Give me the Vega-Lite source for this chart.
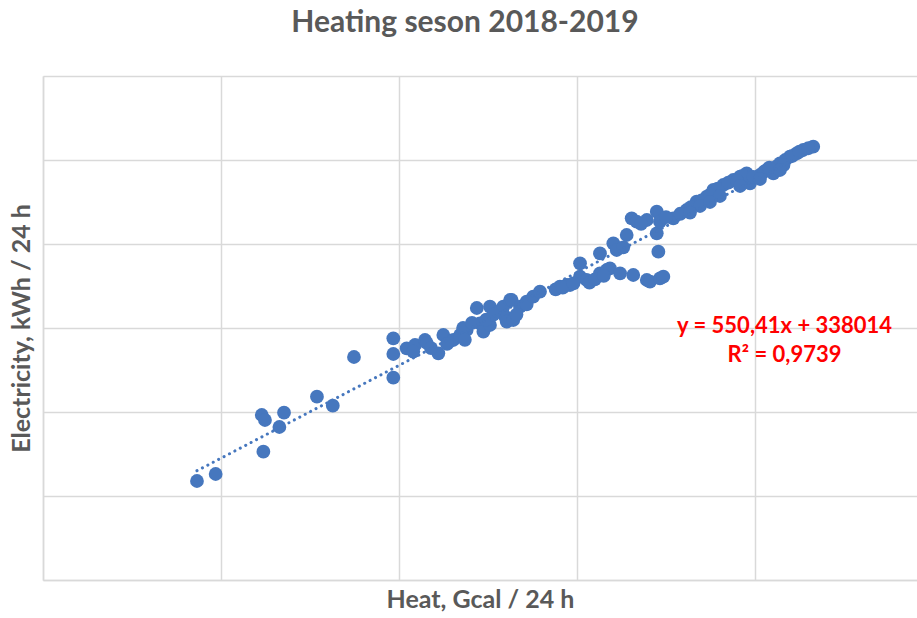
{
  "$schema": "https://vega.github.io/schema/vega-lite/v6.json",
  "width": 874,
  "height": 504,
  "autosize": {"type": "none"},
  "padding": {"left": 43, "top": 76, "right": 0, "bottom": 38},
  "background": "white",
  "config": {"view": {"stroke": null}},
  "title": {
    "text": "Heating seson 2018-2019",
    "font": "Lato",
    "fontSize": 30,
    "fontWeight": "bold",
    "color": "#595959",
    "anchor": "middle",
    "offset": 38,
    "dx": -15
  },
  "datasets": {
    "points": [
      {"heat": 136.5, "elec": 408929}, {"heat": 147.0, "elec": 413095}, {"heat": 172.9, "elec": 448215},
      {"heat": 174.7, "elec": 445238}, {"heat": 185.4, "elec": 449584}, {"heat": 182.8, "elec": 441072},
      {"heat": 173.8, "elec": 426369}, {"heat": 203.9, "elec": 459108}, {"heat": 212.8, "elec": 453750},
      {"heat": 224.7, "elec": 482739}, {"heat": 246.8, "elec": 493870}, {"heat": 246.8, "elec": 484524},
      {"heat": 246.8, "elec": 470417}, {"heat": 254.3, "elec": 487917}, {"heat": 259.0, "elec": 489881},
      {"heat": 264.6, "elec": 492858}, {"heat": 265.6, "elec": 491072}, {"heat": 272.1, "elec": 484941},
      {"heat": 274.9, "elec": 495834}, {"heat": 280.5, "elec": 492858}, {"heat": 284.3, "elec": 495834},
      {"heat": 288.0, "elec": 498810}, {"heat": 293.7, "elec": 511905}, {"heat": 295.5, "elec": 502798},
      {"heat": 297.4, "elec": 497798}, {"heat": 301.1, "elec": 512679}, {"heat": 301.1, "elec": 501786},
      {"heat": 305.8, "elec": 509703}, {"heat": 308.6, "elec": 512679}, {"heat": 309.6, "elec": 506727},
      {"heat": 310.5, "elec": 503751}, {"heat": 312.4, "elec": 516667}, {"heat": 313.3, "elec": 516667},
      {"heat": 314.2, "elec": 504762}, {"heat": 318.0, "elec": 512679}, {"heat": 321.7, "elec": 515655},
      {"heat": 321.7, "elec": 514000}, {"heat": 325.4, "elec": 518636}, {"heat": 329.2, "elec": 521610},
      {"heat": 340.4, "elec": 524587}, {"heat": 344.2, "elec": 525596}, {"heat": 346.1, "elec": 525596},
      {"heat": 351.7, "elec": 538513}, {"heat": 351.7, "elec": 530537}, {"heat": 355.4, "elec": 528572},
      {"heat": 362.9, "elec": 544466}, {"heat": 362.9, "elec": 532560}, {"heat": 366.7, "elec": 534524},
      {"heat": 368.5, "elec": 535536}, {"heat": 370.4, "elec": 550418}, {"heat": 372.3, "elec": 546429},
      {"heat": 374.2, "elec": 532560}, {"heat": 377.9, "elec": 555358}, {"heat": 380.7, "elec": 565298},
      {"heat": 381.6, "elec": 531548}, {"heat": 383.5, "elec": 563275}, {"heat": 389.2, "elec": 564286},
      {"heat": 389.2, "elec": 528572}, {"heat": 391.0, "elec": 527560}, {"heat": 394.8, "elec": 569227},
      {"heat": 394.8, "elec": 556370}, {"heat": 395.7, "elec": 545418}, {"heat": 396.6, "elec": 529584},
      {"heat": 398.5, "elec": 530537}, {"heat": 396.6, "elec": 563275}, {"heat": 404.1, "elec": 565298},
      {"heat": 411.6, "elec": 570239}, {"heat": 417.2, "elec": 575185}, {"heat": 422.9, "elec": 578158},
      {"heat": 426.6, "elec": 582144}, {"heat": 432.2, "elec": 585120}, {"heat": 437.8, "elec": 588096},
      {"heat": 441.6, "elec": 590060}, {"heat": 445.3, "elec": 592084}, {"heat": 447.2, "elec": 586132},
      {"heat": 452.8, "elec": 591072}, {"heat": 456.6, "elec": 594048}, {"heat": 460.3, "elec": 592084},
      {"heat": 464.0, "elec": 598036}, {"heat": 469.6, "elec": 601966}, {"heat": 473.4, "elec": 603989},
      {"heat": 477.1, "elec": 605953}, {"heat": 482.7, "elec": 607917},
      {"heat": 338, "elec": 523000}, {"heat": 342, "elec": 524000}, {"heat": 348, "elec": 526500},
      {"heat": 357, "elec": 527000}, {"heat": 360, "elec": 529000}, {"heat": 365, "elec": 531000},
      {"heat": 376, "elec": 548000}, {"heat": 386, "elec": 562000}, {"heat": 400, "elec": 566000},
      {"heat": 408, "elec": 568000}, {"heat": 414, "elec": 572000}, {"heat": 420, "elec": 576000},
      {"heat": 429, "elec": 583000}, {"heat": 435, "elec": 586500}, {"heat": 443, "elec": 590500},
      {"heat": 449, "elec": 590000}, {"heat": 455, "elec": 593000}, {"heat": 462, "elec": 596000},
      {"heat": 467, "elec": 600000}, {"heat": 471, "elec": 602500}, {"heat": 475, "elec": 605000},
      {"heat": 480, "elec": 607000}, {"heat": 286, "elec": 500000}, {"heat": 291, "elec": 503000},
      {"heat": 299, "elec": 505000}, {"heat": 303, "elec": 508000}, {"heat": 316, "elec": 508000},
      {"heat": 258, "elec": 486000}, {"heat": 268, "elec": 488000}, {"heat": 277, "elec": 490500},
      {"heat": 287, "elec": 493000}, {"heat": 425, "elec": 579500}, {"heat": 440, "elec": 587500},
      {"heat": 458, "elec": 595500}, {"heat": 466, "elec": 597000},
      {"heat": 419.1, "elec": 572620}, {"heat": 430.3, "elec": 578572}, {"heat": 441.6, "elec": 584524},
      {"heat": 452.8, "elec": 588691}, {"heat": 464.0, "elec": 594048}, {"heat": 413.5, "elec": 568694},
      {"heat": 424.7, "elec": 575000}
    ],
    "trend": [
      {"heat": 136.5, "elec": 415060},
      {"heat": 482.7, "elec": 606300}
    ],
    "labels": [
      {"heat": 466.6, "elec": 501190, "label": "y = 550,41x + 338014"},
      {"heat": 466.6, "elec": 483930, "label": "R² = 0,9739"}
    ]
  },
  "encoding": {
    "x": {
      "field": "heat", "type": "quantitative",
      "scale": {"domain": [50, 541], "nice": false, "zero": false},
      "axis": {
        "title": "Heat, Gcal / 24 h",
        "values": [50, 150, 250, 350, 450],
        "labels": false, "ticks": false,
        "grid": true, "gridColor": "#d9d9d9", "gridWidth": 1.5,
        "domainColor": "#d9d9d9", "domainWidth": 1.5,
        "titleFont": "Lato", "titleFontSize": 25, "titleFontWeight": "bold",
        "titleColor": "#595959", "titlePadding": 7
      }
    },
    "y": {
      "field": "elec", "type": "quantitative",
      "scale": {"domain": [350000, 650000], "nice": false, "zero": false},
      "axis": {
        "title": "Electricity, kWh / 24 h",
        "values": [350000, 400000, 450000, 500000, 550000, 600000, 650000],
        "labels": false, "ticks": false,
        "grid": true, "gridColor": "#d9d9d9", "gridWidth": 1.5,
        "domainColor": "#d9d9d9", "domainWidth": 1.5,
        "titleFont": "Lato", "titleFontSize": 25, "titleFontWeight": "bold",
        "titleColor": "#595959", "titlePadding": 9
      }
    }
  },
  "layer": [
    {
      "data": {"name": "points"},
      "mark": {"type": "circle", "size": 190, "color": "#4677be", "opacity": 1}
    },
    {
      "data": {"name": "trend"},
      "mark": {"type": "line", "color": "#4677be", "strokeWidth": 3, "strokeDash": [0.1, 6], "strokeCap": "round"}
    },
    {
      "data": {"name": "labels"},
      "mark": {"type": "text", "font": "Lato", "fontSize": 22, "fontWeight": "bold", "color": "#ff0000", "align": "center", "baseline": "middle"},
      "encoding": {"text": {"field": "label"}}
    }
  ]
}
